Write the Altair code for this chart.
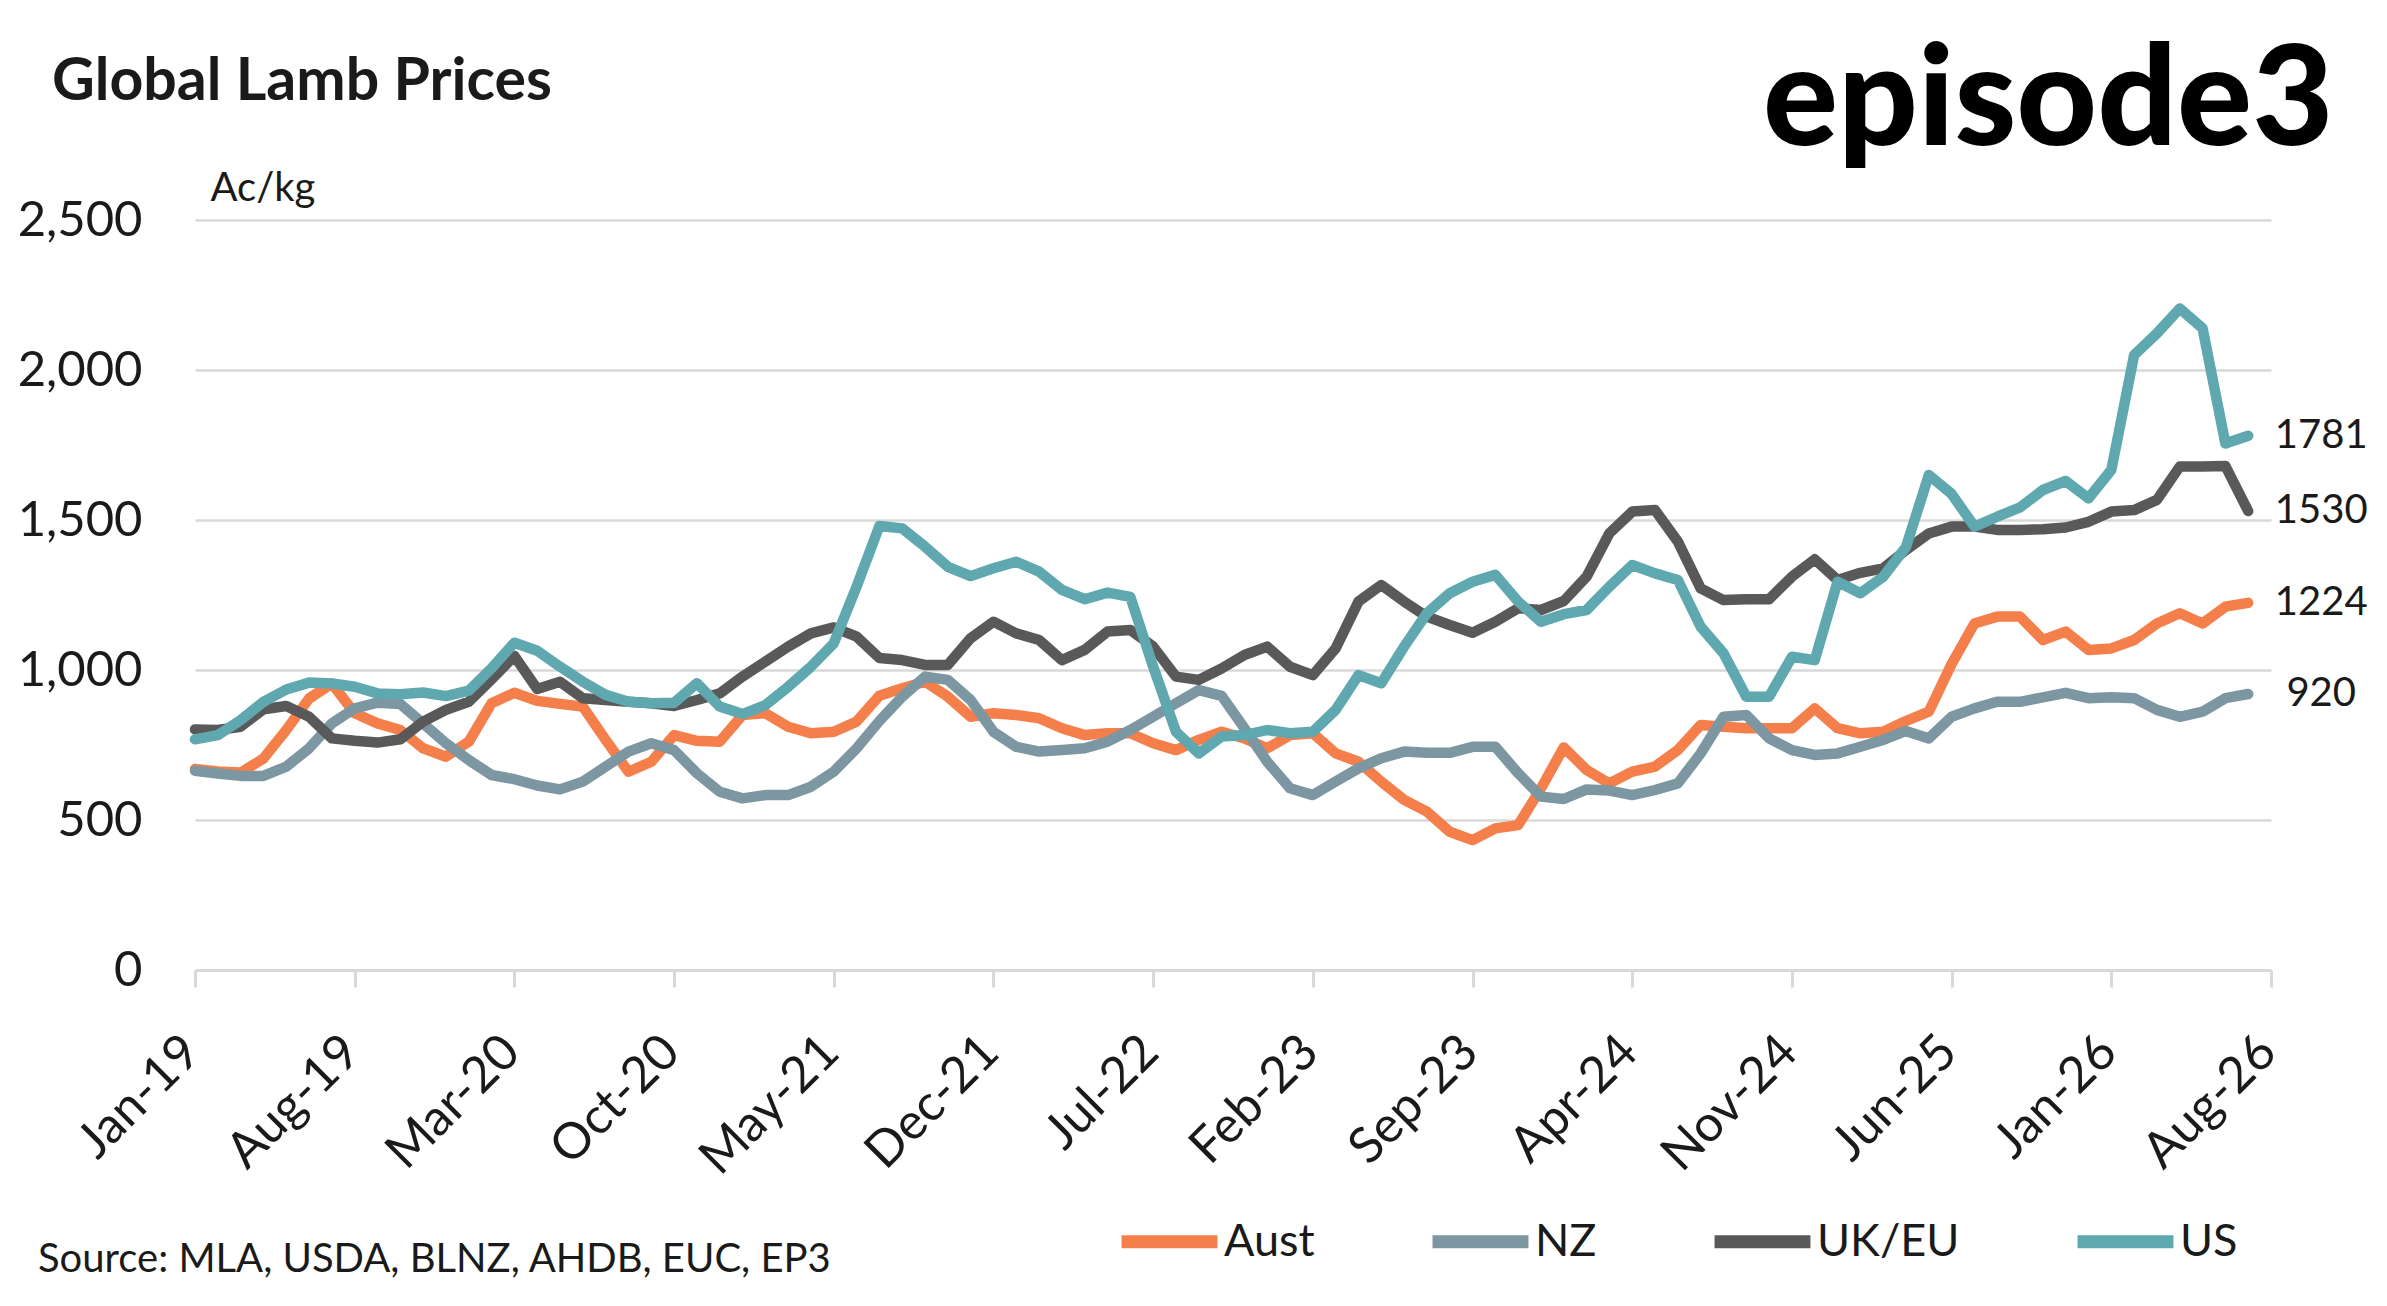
import altair as alt
import pandas as pd

# monthly categories Jan-19 .. Aug-26, axis labelled every 7 months
months = pd.date_range("2019-01-01", periods=92, freq="MS").strftime("%b-%y").tolist()
tick_months = months[::7]

series_names = ["Aust", "NZ", "UK/EU", "US"]
series_colors = ["#F47F4A", "#7C96A2", "#595959", "#5FA8B0"]

aust = [670, 662, 658, 705, 800, 905, 955, 856, 822, 800,
        739, 711, 761, 889, 924, 897, 887, 878, 767, 661,
        694, 783, 764, 761, 850, 856, 811, 789, 794, 828,
        914, 939, 961, 911, 844, 856, 850, 839, 806, 783,
        789, 789, 756, 733, 767, 794, 772, 739, 783, 789,
        722, 694, 628, 567, 528, 461, 433, 472, 483, 606,
        742, 667, 622, 661, 678, 733, 817, 811, 806, 806,
        806, 872, 806, 789, 794, 830, 861, 1020, 1155, 1178,
        1178, 1100, 1128, 1067, 1072, 1100, 1155, 1189, 1155, 1211,
        1224]

nz = [664, 655, 647, 647, 678, 739, 822, 872, 891, 887,
      822, 756, 700, 650, 636, 615, 602, 628, 678, 728,
      756, 733, 656, 594, 572, 583, 583, 611, 661, 739,
      830, 911, 978, 967, 900, 794, 744, 728, 733, 739,
      761, 800, 844, 889, 933, 914, 806, 694, 606, 583,
      628, 672, 706, 728, 724, 724, 744, 744, 656, 578,
      570, 602, 598, 583, 600, 622, 722, 844, 850, 772,
      733, 717, 722, 744, 767, 797, 772, 844, 872, 894,
      894, 909, 924, 906, 909, 906, 867, 844, 861, 906,
      920]

ukeu = [802, 800, 811, 869, 880, 844, 772, 764, 758, 769,
        828, 867, 894, 969, 1047, 937, 961, 906, 900, 894,
        889, 880, 900, 922, 978, 1028, 1078, 1122, 1142, 1111,
        1040, 1033, 1017, 1017, 1106, 1161, 1122, 1100, 1033, 1067,
        1128, 1133, 1078, 978, 967, 1005, 1050, 1078, 1011, 983,
        1072, 1228, 1283, 1228, 1178, 1150, 1124, 1161, 1206, 1200,
        1230, 1311, 1456, 1528, 1533, 1428, 1272, 1233, 1236, 1236,
        1311, 1369, 1300, 1324, 1339, 1400, 1455, 1478, 1478, 1467,
        1467, 1469, 1475, 1494, 1528, 1533, 1567, 1678, 1678, 1680,
        1530]

us = [769, 783, 833, 894, 935, 958, 955, 944, 922, 919,
      925, 913, 931, 1006, 1091, 1064, 1011, 961, 917, 894,
      889, 891, 956, 878, 853, 883, 944, 1011, 1089, 1278,
      1480, 1472, 1411, 1344, 1313, 1339, 1361, 1328, 1267, 1236,
      1258, 1244, 1011, 794, 722, 778, 783, 800, 789, 794,
      867, 983, 956, 1078, 1189, 1256, 1294, 1317, 1228, 1161,
      1186, 1200, 1278, 1350, 1322, 1300, 1144, 1056, 911, 911,
      1044, 1033, 1294, 1256, 1311, 1410, 1650, 1587, 1478, 1511,
      1542, 1600, 1630, 1572, 1667, 2050, 2122, 2205, 2139, 1755,
      1781]

title_text = "Global Lamb Prices"
source_text = "Source: MLA, USDA, BLNZ, AHDB, EUC, EP3"
logo_text = "episode3"

rows = []
for name, vals in zip(series_names, [aust, nz, ukeu, us]):
    for m, v in zip(months, vals):
        rows.append({"month": m, "series": name, "value": v})
df = pd.DataFrame(rows)

FONT = "Lato"
INK = "#1a1a1a"
GRID = "#d9d9d9"

x = alt.X("month:O", sort=months,
          scale=alt.Scale(type="point", domain=months, padding=0),
          axis=alt.Axis(values=tick_months, title=None, labelAngle=-45,
                        labelAlign="right", labelBaseline="middle",
                        labelPadding=57, labelOffset=-3, labelOverlap=False,
                        labelFontSize=50, ticks=True, tickSize=17,
                        tickColor=GRID, tickWidth=3, domainColor=GRID,
                        domainWidth=3, grid=False))
y = alt.Y("value:Q", scale=alt.Scale(domain=[0, 2500], nice=False),
          axis=alt.Axis(values=[0, 500, 1000, 1500, 2000, 2500], format=",d",
                        title="Ac/kg", titleAngle=0, titleX=15, titleY=-20,
                        titleAlign="left", titleBaseline="alphabetic",
                        titleFontSize=40, titleFontWeight="normal",
                        ticks=False, domain=False, labelPadding=53,
                        labelFontSize=49, gridColor=GRID, gridWidth=2.5))

legend = alt.Legend(title=None, orient="none", legendX=920, legendY=967,
                    direction="horizontal", symbolType="stroke",
                    symbolSize=9200, symbolStrokeWidth=13,
                    labelFontSize=45, labelOffset=0, columnPadding=91,
                    padding=0, labelFont=FONT, labelColor=INK)

base = alt.Chart(df)

lines = base.mark_line(strokeWidth=10.5, strokeJoin="round", strokeCap="round").encode(
    x=x, y=y,
    color=alt.Color("series:N", scale=alt.Scale(domain=series_names, range=series_colors),
                    legend=legend),
)

ends = base.transform_filter(alt.datum.month == "Jul-26").mark_text(
    align="center", baseline="middle", dx=73, fontSize=40, font=FONT, color=INK
).encode(x=x, y=y, text=alt.Text("value:Q", format="d"))


def label(text, **kw):
    # single annotation text placed in the view's pixel frame
    return alt.Chart(pd.DataFrame({"label": [text]})).mark_text(
        baseline="alphabetic", font=FONT, **kw
    ).encode(text="label:N")


title = label(title_text, align="left", fontSize=59, fontWeight="bold", color=INK).encode(
    x=alt.value(-143), y=alt.value(-120))
logo = label(logo_text, align="left", fontSize=140, fontWeight=900, color="#000000").encode(
    x=alt.value(1568), y=alt.value(-75))
source = label(source_text, align="left", fontSize=40, color=INK).encode(
    x=alt.value(-157), y=alt.value(1052))

chart = alt.layer(lines, ends, title, logo, source).properties(
    width=2076, height=750,
    autosize=alt.AutoSizeParams(type="none"),
    padding={"left": 187, "top": 212, "right": 100, "bottom": 320},
).configure_view(stroke=None).configure_axis(
    labelFont=FONT, titleFont=FONT, labelColor=INK, titleColor=INK
)

chart.save("out.html", embed_options={"renderer": "svg", "actions": False})
